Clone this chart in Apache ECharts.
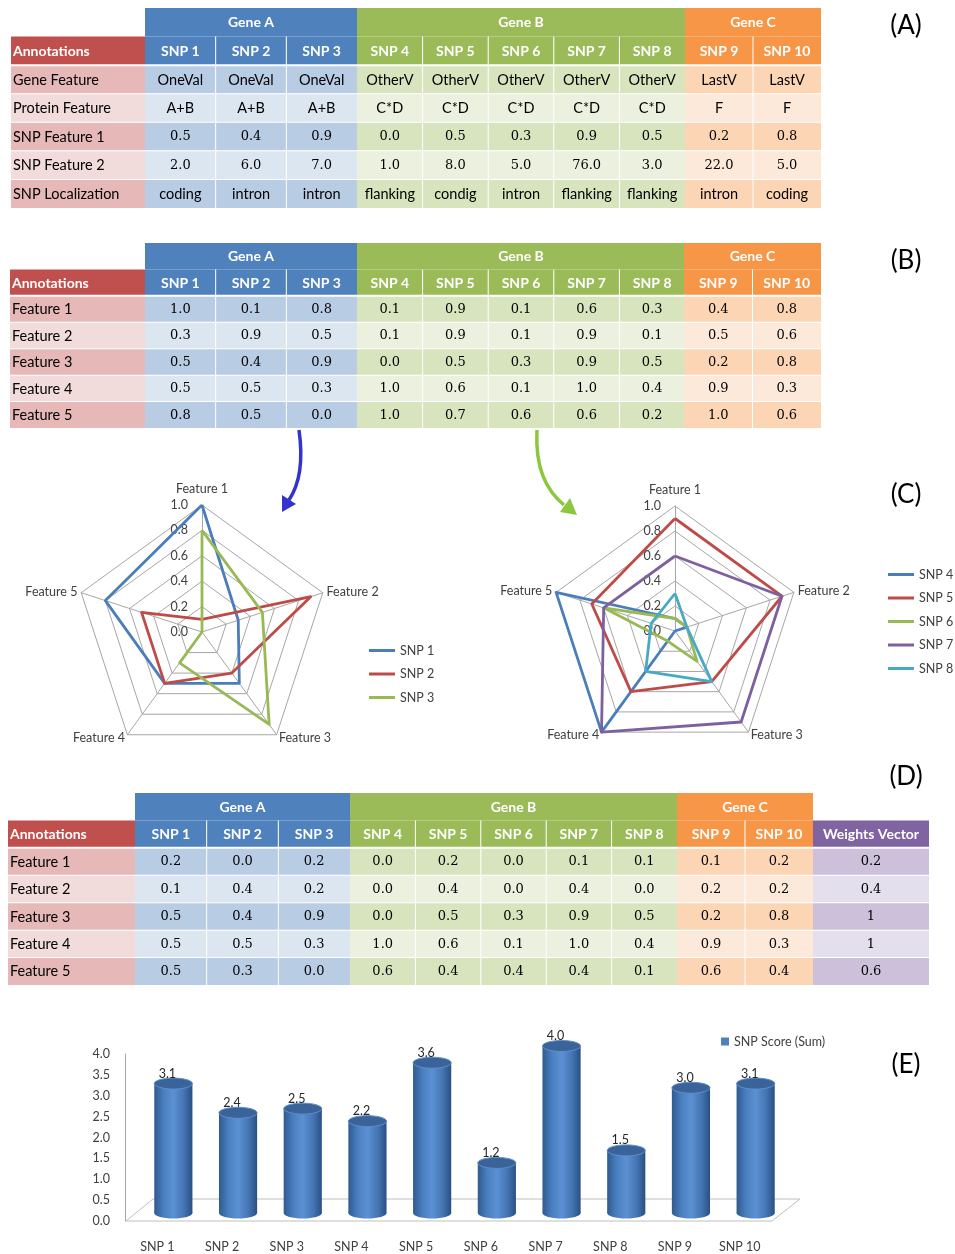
<!DOCTYPE html>
<html><head><meta charset="utf-8">
<script src="https://cdn.jsdelivr.net/npm/echarts@6/dist/echarts.min.js"></script>
<style>html,body{margin:0;padding:0;background:#fff}#c{width:955px;height:1254px}</style>
</head><body><div id="c"></div>
<script>
// ================= DATA =================
const snps = ['SNP 1','SNP 2','SNP 3','SNP 4','SNP 5','SNP 6','SNP 7','SNP 8','SNP 9','SNP 10'];
const genes = ['Gene A','Gene B','Gene C'];
const geneOfSnp = [0,0,0,1,1,1,1,1,2,2];

// (A) raw annotations
const annotationsA = ['Gene Feature','Protein Feature','SNP Feature 1','SNP Feature 2','SNP Localization'];
const geneFeature = ['OneVal','OneVal','OneVal','OtherV','OtherV','OtherV','OtherV','OtherV','LastV','LastV'];
const proteinFeature = ['A+B','A+B','A+B','C*D','C*D','C*D','C*D','C*D','F','F'];
const snpFeature1 = [0.5,0.4,0.9,0.0,0.5,0.3,0.9,0.5,0.2,0.8];
const snpFeature2 = [2.0,6.0,7.0,1.0,8.0,5.0,76.0,3.0,22.0,5.0];
const snpLocalization = ['coding','intron','intron','flanking','condig','intron','flanking','flanking','intron','coding'];

// (B) normalized features
const features = ['Feature 1','Feature 2','Feature 3','Feature 4','Feature 5'];
const feature1 = [1.0,0.1,0.8,0.1,0.9,0.1,0.6,0.3,0.4,0.8];
const feature2 = [0.3,0.9,0.5,0.1,0.9,0.1,0.9,0.1,0.5,0.6];
const feature3 = [0.5,0.4,0.9,0.0,0.5,0.3,0.9,0.5,0.2,0.8];
const feature4 = [0.5,0.5,0.3,1.0,0.6,0.1,1.0,0.4,0.9,0.3];
const feature5 = [0.8,0.5,0.0,1.0,0.7,0.6,0.6,0.2,1.0,0.6];

// (C) SNPs shown in each radar
const radarLeftSnps = [0,1,2];
const radarRightSnps = [3,4,5,6,7];

// (D) weighted features
const weighted1 = [0.2,0.0,0.2,0.0,0.2,0.0,0.1,0.1,0.1,0.2];
const weighted2 = [0.1,0.4,0.2,0.0,0.4,0.0,0.4,0.0,0.2,0.2];
const weighted3 = [0.5,0.4,0.9,0.0,0.5,0.3,0.9,0.5,0.2,0.8];
const weighted4 = [0.5,0.5,0.3,1.0,0.6,0.1,1.0,0.4,0.9,0.3];
const weighted5 = [0.5,0.3,0.0,0.6,0.4,0.4,0.4,0.1,0.6,0.4];
const weightsVector = [0.2,0.4,1,1,0.6];

// (E) scores
const scoreName = 'SNP Score (Sum)';
const snpScore = [3.1,2.4,2.5,2.2,3.6,1.2,4.0,1.5,3.0,3.1];

const panelLabels = ['(A)','(B)','(C)','(D)','(E)'];

// ================= STYLE / LAYOUT =================
const SANS = 'Lato, "Open Sans", sans-serif';
const SERIF = '"DejaVu Serif", serif';
const FONT_BOLD = 'bold 14px ' + SANS;
const FONT_TEXT = '14.5px ' + SANS;
const FONT_NUM = '13px ' + SERIF;
const pal = {
  gene: [
    {head:'#4F81BD', dark:'#B8CCE4', light:'#DCE6F1'},
    {head:'#9BBB59', dark:'#D7E4BD', light:'#EBF1DE'},
    {head:'#F79646', dark:'#FCD5B5', light:'#FDE9D9'}
  ],
  ann: {head:'#C0504D', dark:'#E6B9B8', light:'#F2DCDB'},
  w: {head:'#8064A2', dark:'#CCC0DA', light:'#E4DFEC'}
};
const tableLayouts = [
  {top:8, height:200, ann:[11,134], groups:[[145,212],[357,328],[685,136]]},
  {top:243, height:185, ann:[10,135], groups:[[145,212],[357,328],[684,137]]},
  {top:793, height:192, ann:[8,127], groups:[[135,215],[350,327],[677,136]], weights:[813,116]}
];
const radarColors = ['#4A7EBB','#BE4B48','#98B954','#7D60A0','#46AAC5'];

const option = {animation:false, grid:[], xAxis:[], yAxis:[], series:[], radar:[], legend:[], graphic:[]};

function addGrid(g, xAx, yAx){
  option.grid.push(g);
  const gi = option.grid.length - 1;
  option.xAxis.push(Object.assign({gridIndex:gi}, xAx));
  option.yAxis.push(Object.assign({gridIndex:gi}, yAx));
  return gi;
}

function cellRenderer(cells){
  return function(params, api){
    const cell = cells[params.dataIndex];
    const ctr = api.coord([api.value(0), api.value(1)]);
    const sz = api.size([1,1]);
    let w = sz[0], h = sz[1];
    const x = ctr[0] - w/2, y = ctr[1] - h/2;
    if (cell.span) w = w * cell.span;
    const ch = [{type:'rect', shape:{x:x, y:y, width:w, height:h}, style:{fill:cell.fill}, z2:1}];
    if (cell.sepLeft) ch.push({type:'rect', shape:{x:x-0.5, y:y, width:1, height:h}, style:{fill:'#fff'}, z2:5});
    if (cell.sepTop) ch.push({type:'rect', shape:{x:x, y:y-(cell.thick?1:0.5), width:w, height:cell.thick?2:1}, style:{fill:'#fff'}, z2:5});
    ch.push({type:'text', z2:10, style:{text:cell.text, x: cell.align==='left' ? x+2 : x+w/2, y: y+h/2+0.5,
      align: cell.align||'center', verticalAlign:'middle', fill:cell.color, font:cell.font}});
    return {type:'group', children:ch};
  };
}

function addCellSeries(gi, cells){
  option.series.push({type:'custom', xAxisIndex:gi, yAxisIndex:gi, silent:true, clip:false,
    data: cells.map(c => [c.c, c.r]), renderItem: cellRenderer(cells)});
}

function isNumText(t){ return /^[0-9.]+$/.test(t); }

function buildTable(layout, rowNames, rows, weightTexts){
  const yCats = ['gene','head'].concat(rowNames);
  // annotation column
  {
    const gi = addGrid({left:layout.ann[0], top:layout.top, width:layout.ann[1], height:layout.height},
      {type:'category', data:['Annotations'], show:false}, {type:'category', data:yCats, inverse:true, show:false});
    const cells = [{c:0, r:1, text:'Annotations', fill:pal.ann.head, color:'#fff', font:FONT_BOLD, align:'left'}];
    rowNames.forEach((n, j) => cells.push({c:0, r:2+j, text:n, fill: j%2===0 ? pal.ann.dark : pal.ann.light,
      color:'#000', font:FONT_TEXT, align:'left', sepTop:true, thick:j===0}));
    addCellSeries(gi, cells);
  }
  // gene groups
  genes.forEach((gname, g) => {
    const cols = snps.map((s,i)=>i).filter(i => geneOfSnp[i] === g);
    const P = pal.gene[g];
    const gi = addGrid({left:layout.groups[g][0], top:layout.top, width:layout.groups[g][1], height:layout.height},
      {type:'category', data:cols.map(i=>snps[i]), show:false}, {type:'category', data:yCats, inverse:true, show:false});
    const cells = [{c:0, r:0, span:cols.length, text:gname, fill:P.head, color:'#fff', font:FONT_BOLD}];
    cols.forEach((i,k) => cells.push({c:k, r:1, text:snps[i], fill:P.head, color:'#fff', font:FONT_BOLD, sepLeft:k>0}));
    rows.forEach((row, j) => cols.forEach((i,k) => {
      const t = row[i];
      cells.push({c:k, r:2+j, text:t, fill: j%2===0 ? P.dark : P.light, color:'#000',
        font: isNumText(t) ? FONT_NUM : FONT_TEXT, sepLeft:k>0, sepTop:true, thick:j===0});
    }));
    addCellSeries(gi, cells);
  });
  // weights column
  if (weightTexts){
    const gi = addGrid({left:layout.weights[0], top:layout.top, width:layout.weights[1], height:layout.height},
      {type:'category', data:['Weights Vector'], show:false}, {type:'category', data:yCats, inverse:true, show:false});
    const cells = [{c:0, r:1, text:'Weights Vector', fill:pal.w.head, color:'#fff', font:FONT_BOLD}];
    weightTexts.forEach((t, j) => cells.push({c:0, r:2+j, text:t, fill: j%2===0 ? pal.w.dark : pal.w.light,
      color:'#000', font:FONT_NUM, sepTop:true, thick:j===0}));
    addCellSeries(gi, cells);
  }
}

const f1 = v => v.toFixed(1);
buildTable(tableLayouts[0], annotationsA,
  [geneFeature, proteinFeature, snpFeature1.map(f1), snpFeature2.map(f1), snpLocalization]);
const featureVals = [feature1, feature2, feature3, feature4, feature5];
buildTable(tableLayouts[1], features, featureVals.map(a => a.map(f1)));
const weightedVals = [weighted1, weighted2, weighted3, weighted4, weighted5];
buildTable(tableLayouts[2], features, weightedVals.map(a => a.map(f1)), weightsVector.map(v => String(v)));

// ================= RADARS (C) =================
// indicator order for a clockwise layout (ECharts places indicators counter-clockwise)
const radarOrder = [0,4,3,2,1];
const radarDefs = [
  {center:[202,632], radius:127, snpsIdx:radarLeftSnps, legendPos:{left:369, top:644}},
  {center:[675,631], radius:125, snpsIdx:radarRightSnps, legendPos:{left:888, top:568}}
];
radarDefs.forEach((rd, ri) => {
  option.radar.push({
    center: rd.center, radius: rd.radius, startAngle: 90, shape:'polygon', splitNumber:5,
    indicator: radarOrder.map(f => ({name:features[f], min:0, max:1})),
    axisName:{color:'#404040', fontSize:12.5, fontFamily:SANS,
      formatter: (name) => name === features[0] ? '{top|' + name + '}' : name,
      rich:{top:{color:'#404040', fontSize:12.5, fontFamily:SANS, padding:[0,0,6,0]}}},
    nameGap:4,
    splitLine:{lineStyle:{color:'#A6A6A6', width:1}}, splitArea:{show:false},
    axisLine:{lineStyle:{color:'#A6A6A6', width:1}}, axisTick:{show:false}, axisLabel:{show:false}
  });
  option.series.push({
    type:'radar', radarIndex:ri, symbol:'none', silent:true,
    data: rd.snpsIdx.map((s, k) => ({
      name: snps[s],
      value: radarOrder.map(f => featureVals[f][s]),
      lineStyle:{color:radarColors[k], width:2.8},
      itemStyle:{color:radarColors[k]}
    }))
  });
  // tick labels along Feature 1 axis, via a value axis aligned with it
  addGrid({left:rd.center[0], top:rd.center[1]-rd.radius, width:1, height:rd.radius},
    {type:'value', show:false},
    {type:'value', min:0, max:1, interval:0.2, axisLine:{show:false}, axisTick:{show:false}, splitLine:{show:false},
     axisLabel:{margin:14, color:'#404040', fontSize:12.5, fontFamily:SANS, formatter: v => v.toFixed(1)}});
  option.legend.push(Object.assign({
    data: rd.snpsIdx.map(s => snps[s]), orient:'vertical', icon:'rect', itemWidth:26, itemHeight:3, itemGap:10.5,
    selectedMode:false, textStyle:{color:'#404040', fontSize:12.5, fontFamily:SANS}, padding:0
  }, rd.legendPos));
});

// ================= BARS (E) =================
const barGi = addGrid({left:125, top:1054, width:647, height:167},
  {type:'category', data:snps, axisLine:{show:false}, axisTick:{show:false},
   axisLabel:{margin:19, color:'#404040', fontSize:12.5, fontFamily:SANS}},
  {type:'value', min:0, max:4, interval:0.5, axisLine:{show:true, lineStyle:{color:'#A6A6A6'}}, axisTick:{show:false},
   splitLine:{show:false}, axisLabel:{margin:15, color:'#404040', fontSize:12.5, fontFamily:SANS, formatter: v => v.toFixed(1)}});
// floor of the 3D plot
option.series.push({type:'custom', xAxisIndex:barGi, yAxisIndex:barGi, silent:true, clip:false, z:1,
  data:[[0,0]], renderItem: function(params, api){
    const cs = params.coordSys;
    const x0 = cs.x, x1 = cs.x + cs.width, y0 = cs.y + cs.height, dx = 28, dy = -22;
    return {type:'polygon', shape:{points:[[x0+1,y0],[x1,y0],[x1+dx,y0+dy],[x0+dx,y0+dy]]},
      style:{fill:'none', stroke:'#BFBFBF', lineWidth:1}};
  }});
// cylinders
option.series.push({type:'custom', name:scoreName, xAxisIndex:barGi, yAxisIndex:barGi, silent:true, clip:false, z:3,
  itemStyle:{color:'#4F81BD'},
  data: snpScore.map((v,i) => [i, v]),
  renderItem: function(params, api){
    const i = api.value(0), v = api.value(1);
    const base = api.coord([i, 0]), top = api.coord([i, v]);
    const band = api.size([1,0])[0];
    const dx = 16, dy = -8, rx = band*0.295, ry = 5.5;
    const cx = base[0] + dx, yb = base[1] + dy, yt = top[1] + dy;
    const grad = new echarts.graphic.LinearGradient(0,0,1,0,[
      {offset:0, color:'#2F5A90'},{offset:0.25, color:'#4A7FC0'},{offset:0.5, color:'#5B91D3'},
      {offset:0.78, color:'#4474B2'},{offset:1, color:'#2A4F82'}]);
    return {type:'group', children:[
      {type:'ellipse', shape:{cx:cx, cy:yb, rx:rx, ry:ry}, style:{fill:grad}},
      {type:'rect', shape:{x:cx-rx, y:yt, width:rx*2, height:yb-yt}, style:{fill:grad}},
      {type:'ellipse', shape:{cx:cx, cy:yt, rx:rx, ry:ry}, style:{fill:'#3A6499', stroke:'#5E8FCB', lineWidth:1}},
      {type:'text', style:{text:v.toFixed(1), x:cx-6, y:yt-10, align:'center', verticalAlign:'middle',
        fill:'#262626', font:'12.5px ' + SANS}}
    ]};
  }});
option.legend.push({data:[scoreName], left:721, top:1035, icon:'rect', itemWidth:8, itemHeight:8, selectedMode:false,
  padding:0, textStyle:{color:'#404040', fontSize:12.5, fontFamily:SANS}});

// ================= DECORATIONS =================
const panelY = [26, 261, 495, 777, 1065];
panelLabels.forEach((t, k) => option.graphic.push({type:'text', x:906, y:panelY[k], silent:true,
  style:{text:t, font:'26px ' + SANS, fill:'#000', align:'center', verticalAlign:'middle'}}));
// arrows from table (B) to radars
option.graphic.push(
  {type:'bezierCurve', silent:true, shape:{x1:299, y1:430, cpx1:303, cpy1:458, cpx2:301, cpy2:482, x2:289, y2:500},
   style:{stroke:'#3434CC', lineWidth:3.5, fill:null}},
  {type:'polygon', silent:true, shape:{points:[[282,512],[296,504],[282,495]]}, style:{fill:'#3434CC'}},
  {type:'bezierCurve', silent:true, shape:{x1:537, y1:430, cpx1:535, cpy1:468, cpx2:546, cpy2:490, x2:564, y2:505},
   style:{stroke:'#8DC63F', lineWidth:3.5, fill:null}},
  {type:'polygon', silent:true, shape:{points:[[577,515],[560,512],[570,498]]}, style:{fill:'#8DC63F'}}
);

const chart = echarts.init(document.getElementById('c'), null, {renderer:'canvas'});
chart.setOption(option);
</script></body></html>
